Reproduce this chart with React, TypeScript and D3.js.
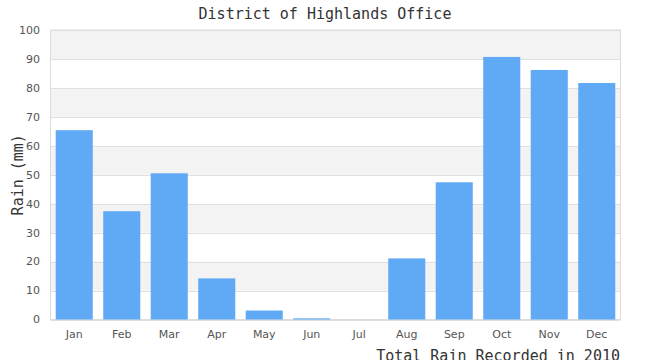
import React from "react";
import * as d3 from "d3";

const months = ["Jan","Feb","Mar","Apr","May","Jun","Jul","Aug","Sep","Oct","Nov","Dec"];
const rain = [65.4, 37.4, 50.5, 14.2, 3.1, 0.4, 0, 21.1, 47.4, 90.7, 86.2, 81.7];
const yTicks = [0,10,20,30,40,50,60,70,80,90,100];
const title = "District of Highlands Office";
const yLabel = "Rain (mm)";
const xLabel = "Total Rain Recorded in 2010";

export default function App() {
  const W = 650, H = 360;
  const left = 50.5, right = 620.5, top = 30, bottom = 319.5;
  const x = d3.scaleBand<string>().domain(months).range([left, right]).paddingInner(0.22).paddingOuter(0.11);
  const y = d3.scaleLinear().domain([0, 100]).range([bottom, top]);
  const bands = d3.range(0, 10).filter(i => i % 2 === 1);
  const mono = "'DejaVu Sans Mono', monospace";
  const sans = "'DejaVu Sans', sans-serif";
  return (
    <svg width={W} height={H} style={{ position: "absolute", left: 0, top: 0, background: "#fff" }}>
      {bands.map(i => (
        <rect key={i} x={left} width={right - left} y={y((i + 1) * 10)} height={y(i * 10) - y((i + 1) * 10)} fill="#f3f3f3" />
      ))}
      {yTicks.map(t => (
        <line key={t} x1={left} x2={right} y1={Math.round(y(t)) + 0.5} y2={Math.round(y(t)) + 0.5} stroke="#e0e0e0" strokeWidth={1} />
      ))}
      <rect x={left} y={top} width={right - left} height={bottom - top} fill="none" stroke="#dcdcdc" strokeWidth={1} />
      {months.map((m, i) => (
        <rect key={m} x={x(m)!} width={x.bandwidth()} y={y(rain[i])} height={y(0) - y(rain[i])} fill="#60a9f5" />
      ))}
      {yTicks.map(t => (
        <text key={t} x={40} y={y(t)} dy="0.35em" textAnchor="end" fontFamily={sans} fontSize={11} fill="#555">{t}</text>
      ))}
      {months.map(m => (
        <text key={m} x={x(m)! + x.bandwidth() / 2} y={334} dy="0.35em" textAnchor="middle" fontFamily={sans} fontSize={11} fill="#555">{m}</text>
      ))}
      <text x={325} y={19} textAnchor="middle" fontFamily={mono} fontSize={15} fill="#333">{title}</text>
      <text transform={`translate(23,${(top + bottom) / 2}) rotate(-90)`} textAnchor="middle" fontFamily={mono} fontSize={15} fill="#333">{yLabel}</text>
      <text x={620} y={361} textAnchor="end" fontFamily={mono} fontSize={15} fill="#333">{xLabel}</text>
    </svg>
  );
}
